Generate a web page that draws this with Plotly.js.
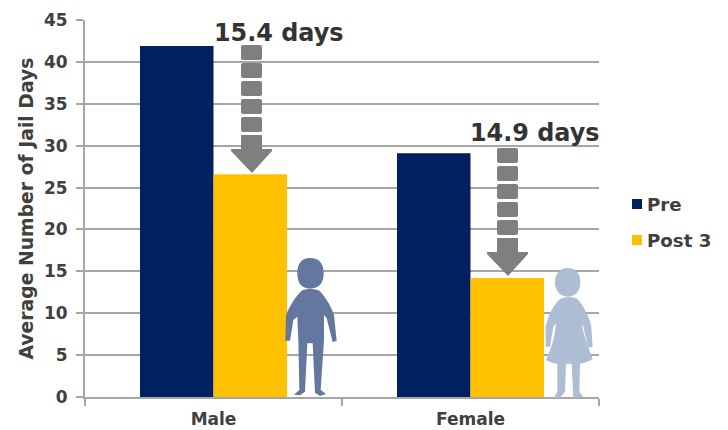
<!DOCTYPE html>
<html><head><meta charset="utf-8">
<script src="https://cdn.plot.ly/plotly-3.0.1.min.js"></script>
<style>html,body{margin:0;padding:0;background:#fff}</style></head>
<body><div id="chart" style="width:728px;height:430px"></div>
<script>
const categories = ["Male", "Female"];
const preValues = [41.9, 29.1];
const post3Values = [26.6, 14.2];
const dropLabels = ["15.4 days", "14.9 days"];
const yTicks = [0,5,10,15,20,25,30,35,40,45];
const seriesNames = ["Pre", "Post 3"];
const seriesColors = ["#002060", "#ffc000"];
const yTitle = "Average Number of Jail Days";

const W=728,H=430,L=85,R=599,T=20,B=397;
const px=x=>(x-L)/(R-L), py=y=>(B-y)/(B-T);
const FONT='"DejaVu Sans", Verdana, sans-serif';
const TXT='#404040';

function path(d,ox,oy,s){
  return d.replace(/(-?[\d.]+),(-?[\d.]+)/g,(m,a,b)=>{
    return px(ox+a/s).toFixed(5)+','+py(oy+b/s).toFixed(5);
  });
}
const shapes=[];
function addPath(d,ox,oy,s,color){
  shapes.push({type:'path',xref:'paper',yref:'paper',path:path(d,ox,oy,s),fillcolor:color,line:{width:0},layer:'above'});
}
function rounded(x0,y0,x1,y1,r){
  return `M${x0+r},${y0} L${x1-r},${y0} Q${x1},${y0} ${x1},${y0+r} L${x1},${y1-r} Q${x1},${y1} ${x1-r},${y1} L${x0+r},${y1} Q${x0},${y1} ${x0},${y1-r} L${x0},${y0+r} Q${x0},${y0} ${x0+r},${y0} Z`;
}
function arrow(dx,dy){
  for(let i=0;i<5;i++){
    addPath(rounded(241,45+18*i,262,60+18*i,2),dx,dy,1,'#7f7f7f');
  }
  addPath('M241,135 L262,135 L262,149 L272,149 L272,151 L252,173 L231,151 L231,149 L241,149 Z',dx,dy,1,'#7f7f7f');
}
arrow(0,0); arrow(256,103);

const maleColor='#64779f';
addPath('M82,70 C82,40 95,24 120,24 C147,24 161,40 161,70 C161,100 147,116 120,116 C95,116 82,100 82,70 Z',270,250,3,maleColor);
addPath('M95,122 C105,115 135,115 148,122 C160,132 185,170 192,195 L200,272 L188,276 L170,205 L162,195 L162,270 L152,420 L168,432 L150,438 L135,428 L128,280 L112,280 L105,425 L90,436 L72,434 L88,420 L85,270 L82,200 L70,210 L60,272 L46,272 L48,195 C60,165 80,135 95,122 Z',270,250,3,maleColor);

const femaleColor='#adbdd3';
addPath('M75,82 C75,55 90,39 113,39 C137,39 151,55 151,82 C151,108 137,125 113,125 C90,125 75,108 75,82 Z',530,255,3,femaleColor);
addPath('M90,132 C105,124 130,124 142,132 C160,150 180,190 184,215 L188,275 L175,278 L160,215 L155,205 C160,240 180,290 188,312 C170,323 155,325 150,326 L148,410 L160,425 L130,430 L125,326 L108,326 L105,410 L90,428 L70,430 L82,412 L82,326 C70,325 60,322 48,315 C60,290 75,250 78,205 L70,215 L60,275 L47,275 L47,215 C55,180 70,150 90,132 Z',530,255,3,femaleColor);

addPath('M632,199 L642,199 L642,209 L632,209 Z',0,0,1,seriesColors[0]);
addPath('M632,235 L642,235 L642,245 L632,245 Z',0,0,1,seriesColors[1]);

const traces=[
 {type:'bar',name:seriesNames[0],x:categories,y:preValues,marker:{color:seriesColors[0],line:{width:0}}},
 {type:'bar',name:seriesNames[1],x:categories,y:post3Values,marker:{color:seriesColors[1],line:{width:0}}}
];
const dropFont={family:FONT,size:23.9,color:'#333333',weight:700};
const legFont={family:FONT,size:18.2,color:TXT,weight:700};
const annotations=[
 {text:dropLabels[0],x:px(213.5),y:py(33),font:dropFont},
 {text:dropLabels[1],x:px(470),y:py(133),font:dropFont},
 {text:seriesNames[0],x:px(646.5),y:py(204.5),font:legFont},
 {text:seriesNames[1],x:px(646.5),y:py(240),font:legFont},
 {text:yTitle,x:px(26),y:py(208.5),xanchor:'center',textangle:-90,font:{family:FONT,size:18.8,color:TXT,weight:700}}
].map(a=>Object.assign({xanchor:'left'},a,{showarrow:false,xref:'paper',yref:'paper',yanchor:'middle',borderpad:0,borderwidth:0}));

Plotly.newPlot('chart',traces,{
 width:W,height:H,paper_bgcolor:'#fff',plot_bgcolor:'#fff',
 margin:{l:L,r:W-R,t:T,b:H-B,pad:0,autoexpand:false},
 barmode:'group',bargap:0.428,bargroupgap:0,showlegend:false,
 font:{family:FONT,color:TXT},
 xaxis:{type:'category',categoryorder:'array',categoryarray:categories,tickson:'boundaries',ticks:'outside',ticklen:7,tickwidth:2,tickcolor:'#a6a6a6',
   showline:true,linecolor:'#a6a6a6',linewidth:2,showgrid:false,zeroline:false,ticklabelstandoff:6,
   tickfont:{family:FONT,size:17,color:TXT,weight:700}},
 yaxis:{range:[0,45],tickvals:yTicks,ticktext:yTicks.map(String),ticks:'outside',ticklen:7,tickwidth:2,tickcolor:'#a6a6a6',
   showline:true,linecolor:'#a6a6a6',linewidth:2,showgrid:true,gridcolor:'#a6a6a6',gridwidth:2,zeroline:false,ticklabelstandoff:5,
   tickfont:{family:FONT,size:17,color:TXT,weight:700}},
 shapes,annotations
},{displayModeBar:false,staticPlot:true});
</script></body></html>
